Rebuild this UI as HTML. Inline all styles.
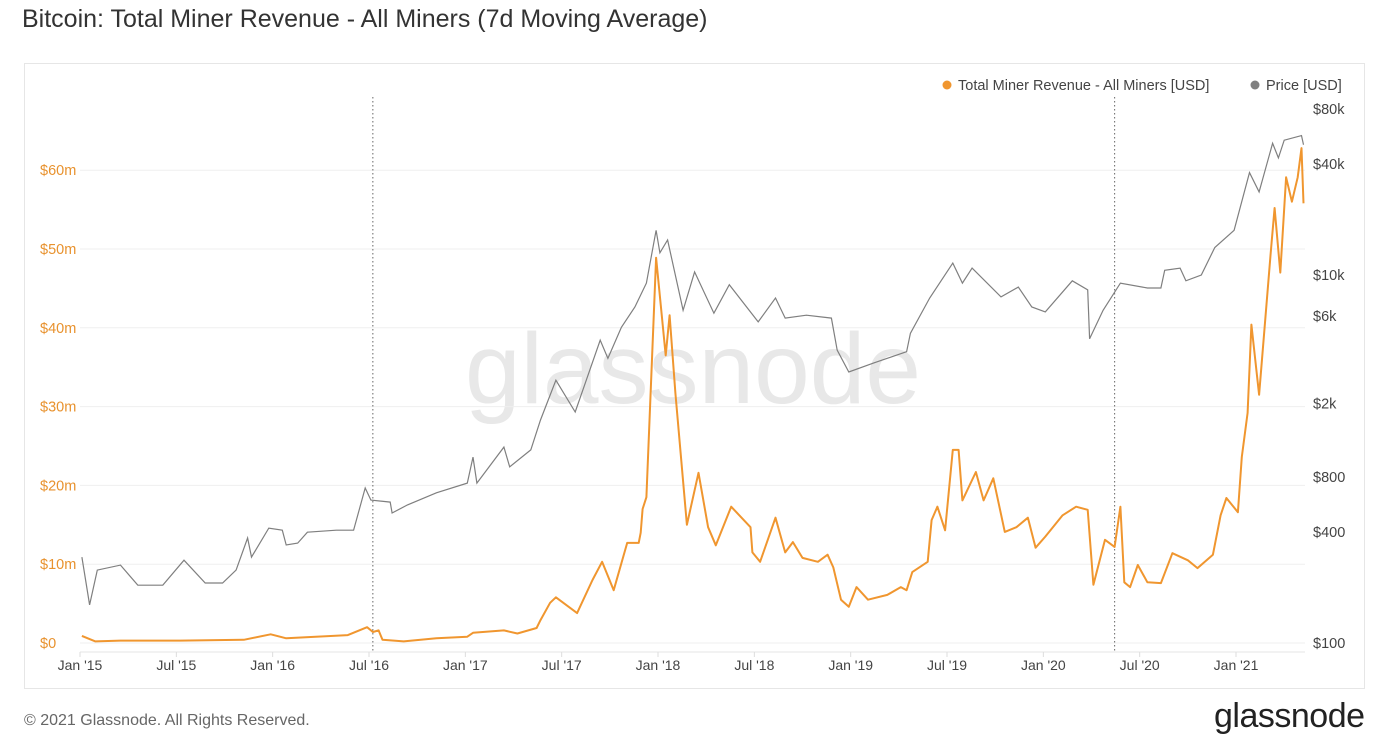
<!DOCTYPE html>
<html><head><meta charset="utf-8">
<style>
body{margin:0;width:1380px;height:754px;background:#fff;font-family:"Liberation Sans",sans-serif;overflow:hidden;position:relative}
</style></head><body>
<div style="position:absolute;left:22px;top:5px;font-size:25px;color:#333">Bitcoin: Total Miner Revenue - All Miners (7d Moving Average)</div>
<div style="position:absolute;left:24px;top:63px;width:1339px;height:624px;border:1px solid #e6e6e6"></div>
<svg id="chart" width="1380" height="754" style="position:absolute;left:0;top:0" xmlns="http://www.w3.org/2000/svg">
<text x="693" y="403" text-anchor="middle" font-size="100" fill="#e8e8e8" font-family="Liberation Sans, sans-serif">glassnode</text>
<g id="grid"></g><g id="axes"></g><g id="lines"></g>
<g font-size="14.5" fill="#444">
<circle cx="947" cy="85" r="4.5" fill="#f0962f"/>
<text x="958" y="90">Total Miner Revenue - All Miners [USD]</text>
<circle cx="1255" cy="85" r="4.5" fill="#808080"/>
<text x="1266" y="90">Price [USD]</text>
</g>
</svg>
<div style="position:absolute;left:24px;top:712px;font-size:16px;color:#666">© 2021 Glassnode. All Rights Reserved.</div>
<div style="position:absolute;left:1214px;top:697px;font-size:34px;color:#222;letter-spacing:-0.5px">glassnode</div>
<script>
const revT=[2015.01,2015.08,2015.21,2015.52,2015.85,2015.99,2016.07,2016.39,2016.49,2016.52,2016.55,2016.57,2016.68,2016.85,2017.01,2017.04,2017.20,2017.27,2017.37,2017.39,2017.44,2017.47,2017.58,2017.66,2017.71,2017.77,2017.84,2017.90,2017.91,2017.92,2017.94,2017.99,2018.04,2018.06,2018.09,2018.15,2018.21,2018.26,2018.30,2018.38,2018.48,2018.49,2018.53,2018.61,2018.66,2018.70,2018.75,2018.83,2018.88,2018.91,2018.95,2018.99,2019.03,2019.09,2019.19,2019.26,2019.29,2019.32,2019.40,2019.42,2019.45,2019.49,2019.53,2019.56,2019.58,2019.65,2019.69,2019.74,2019.80,2019.86,2019.92,2019.96,2020.01,2020.10,2020.17,2020.23,2020.26,2020.32,2020.37,2020.40,2020.42,2020.45,2020.49,2020.54,2020.61,2020.67,2020.75,2020.80,2020.88,2020.92,2020.95,2021.01,2021.03,2021.06,2021.08,2021.12,2021.18,2021.20,2021.23,2021.26,2021.29,2021.32,2021.34,2021.35];
const revM=[0.9,0.2,0.3,0.3,0.4,1.1,0.6,1.0,2.0,1.4,1.6,0.4,0.2,0.6,0.8,1.3,1.6,1.2,1.9,2.9,5.1,5.8,3.8,8,10.3,6.7,12.7,12.7,14,17,18.5,48.9,36.5,41.6,31.7,15,21.6,14.7,12.4,17.3,14.7,11.5,10.3,15.9,11.5,12.8,10.8,10.3,11.2,9.6,5.5,4.6,7.1,5.5,6.1,7.1,6.7,9,10.3,15.6,17.3,14.3,24.5,24.5,18.1,21.7,18.1,20.9,14.1,14.7,15.9,12.1,13.5,16.2,17.3,16.9,7.4,13.1,12.2,17.3,7.7,7.1,9.9,7.7,7.6,11.4,10.5,9.5,11.2,16.2,18.4,16.6,23.6,29.2,40.4,31.5,49.5,55.2,47,59.1,56,59.1,62.8,55.8];
const priceT=[2015.01,2015.05,2015.09,2015.21,2015.30,2015.43,2015.54,2015.65,2015.74,2015.81,2015.87,2015.89,2015.98,2016.05,2016.07,2016.13,2016.18,2016.33,2016.42,2016.48,2016.51,2016.61,2016.62,2016.70,2016.85,2017.01,2017.04,2017.06,2017.20,2017.23,2017.34,2017.39,2017.47,2017.57,2017.70,2017.74,2017.81,2017.88,2017.94,2017.99,2018.01,2018.05,2018.13,2018.19,2018.29,2018.37,2018.52,2018.61,2018.66,2018.77,2018.90,2018.93,2018.99,2019.12,2019.29,2019.31,2019.41,2019.53,2019.58,2019.63,2019.78,2019.87,2019.94,2020.01,2020.15,2020.23,2020.24,2020.31,2020.40,2020.54,2020.61,2020.63,2020.71,2020.74,2020.82,2020.89,2020.99,2021.07,2021.12,2021.19,2021.22,2021.25,2021.34,2021.35];
const priceV=[293,161,249,265,206,206,282,212,212,249,372,293,421,410,341,349,400,410,410,696,598,583,509,563,655,740,1024,740,1160,906,1120,1630,2680,1800,4420,3520,5200,6700,9040,17500,13200,15500,6430,10400,6200,8860,5560,7500,5830,6050,5830,3900,2970,3330,3830,4820,7500,11600,9040,10900,7600,8600,6700,6300,9300,8300,4500,6430,9040,8500,8500,10600,10900,9300,10000,14100,17500,36000,28300,52000,43300,54000,57200,51000];
const leftTicks=[0,10,20,30,40,50,60];
const rightTicks=[100,400,800,2000,6000,10000,40000,80000];
const rightLabels=["$100","$400","$800","$2k","$6k","$10k","$40k","$80k"];
const xTicks=[2015,2015.5,2016,2016.5,2017,2017.5,2018,2018.5,2019,2019.5,2020,2020.5,2021];
const xLabels=["Jan '15","Jul '15","Jan '16","Jul '16","Jan '17","Jul '17","Jan '18","Jul '18","Jan '19","Jul '19","Jan '20","Jul '20","Jan '21"];
const markers=[2016.52,2020.37];
const X=t=>80+(t-2015)*192.67;
const YL=v=>643-v*7.88;
const YR=p=>643-Math.log10(p/100)*184;
const NS="http://www.w3.org/2000/svg";
function mk(tag,attrs,parent,txt){const e=document.createElementNS(NS,tag);for(const k in attrs)e.setAttribute(k,attrs[k]);if(txt!==undefined)e.textContent=txt;parent.appendChild(e);return e;}
const grid=document.getElementById('grid'),axes=document.getElementById('axes'),lines=document.getElementById('lines');
leftTicks.forEach(v=>{
 const l=mk('line',{x1:80,x2:1305,y1:YL(v),y2:YL(v),stroke:'#efefef','stroke-width':1},grid);
 
 
 const t=mk('text',{x:40,y:YL(v)+5,'font-size':14.5,fill:'#e8922e'},axes,'$'+v+(v?'m':''));
 
 
});
rightTicks.forEach((p,i)=>{
 const t=mk('text',{x:1313,y:YR(p)+5,'font-size':14.5,fill:'#444'},axes,rightLabels[i]);
 
 
});
mk('line',{x1:80,x2:1305,y1:652,y2:652,stroke:'#e6e6e6'},axes);
xTicks.forEach((tt,i)=>{
 mk('line',{x1:X(tt),x2:X(tt),y1:652,y2:657,stroke:'#ddd'},axes);
 const t=mk('text',{x:X(tt),y:670,'font-size':14,fill:'#444','text-anchor':'middle'},axes,xLabels[i]);
 
 
});
markers.forEach(m=>{
 const l=mk('line',{x1:X(m),x2:X(m),y1:97,y2:652,stroke:'#666','stroke-dasharray':'1.5 2.5','stroke-width':1},grid);
 
 
});
const pp=mk('path',{d:priceT.map((t,i)=>(i?'L':'M')+X(t).toFixed(1)+','+YR(priceV[i]).toFixed(1)).join(''),fill:'none',stroke:'#7f7f7f','stroke-width':1.2},lines);


const rp=mk('path',{d:revT.map((t,i)=>(i?'L':'M')+X(t).toFixed(1)+','+YL(revM[i]).toFixed(1)).join(''),fill:'none',stroke:'#f0962f','stroke-width':2,'stroke-linejoin':'round'},lines);


</script>
</body></html>
